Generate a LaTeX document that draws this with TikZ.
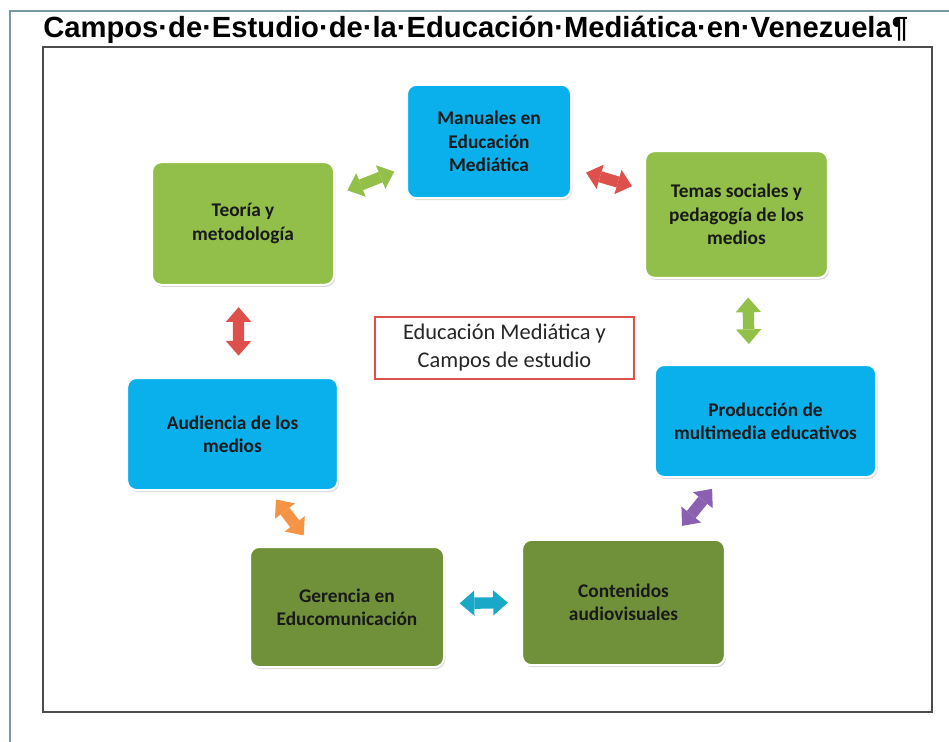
\documentclass[tikz,border=0pt]{standalone}
\usepackage{fontspec}
\setmainfont{Carlito}
\newfontfamily\titelfont{Liberation Sans}
\usetikzlibrary{arrows.meta, shadows}

\definecolor{blau}{RGB}{10,176,235}
\definecolor{hellgruen}{RGB}{146,190,74}
\definecolor{dunkelgruen}{RGB}{112,145,58}
\definecolor{rot}{RGB}{222,80,76}
\definecolor{gruen}{RGB}{146,192,72}
\definecolor{orange}{RGB}{246,148,70}
\definecolor{tuerkis}{RGB}{26,168,200}
\definecolor{lila}{RGB}{138,96,176}
\definecolor{randlinie}{RGB}{122,152,160}

\begin{document}
\begin{tikzpicture}[x=0.75pt, y=-0.75pt,
	kasten/.style={rounded corners=7pt, draw=white, line width=1.5pt, inner sep=0pt, align=center,
		text=black!90, font=\fontsize{14.5}{17.5}\selectfont\bfseries,
		drop shadow={opacity=0.3, shadow xshift=1pt, shadow yshift=-1.5pt}},
	pfeil/.style={line width=8.5pt,
		{Triangle[length=11pt, width=19pt, line width=0pt]}-{Triangle[length=11pt, width=19pt, line width=0pt]}}]
	%\draw[help lines] (0,0) grid (949,742);
	\useasboundingbox (0, 0) rectangle (949, 742);

	\draw [randlinie, line width=0.8pt] (10, 742) -- (10, 11) -- (949, 11);	% Seitenrand
	\node [anchor=base west, inner sep=0pt, font=\titelfont\bfseries\fontsize{21.9}{24}\selectfont] (titel) at (43, 38)
		{Campos·de·Estudio·de·la·Educación·Mediática·en·Venezuela¶};	% Titel
	\draw [black!70, line width=1.5pt] (43, 47) rectangle (932, 712);	% Rahmen

	% Kaesten
	\node [kasten, fill=blau, minimum width=123pt, minimum height=85pt] (manuales) at (489, 141.5) {Manuales en\\Educación\\Mediática};
	\node [kasten, fill=hellgruen, minimum width=137pt, minimum height=95pt] (temas) at (736.5, 214.5) {Temas sociales y\\pedagogía de los\\medios};
	\node [kasten, fill=hellgruen, minimum width=136.5pt, minimum height=92pt] (teoria) at (243, 223.5) {Teoría y\\metodología};
	\node [kasten, fill=blau, minimum width=158pt, minimum height=84pt] (audiencia) at (232.5, 434) {Audiencia de los\\medios};
	\node [kasten, fill=blau, minimum width=166pt, minimum height=84pt] (produccion) at (765.5, 421) {Producción de\\multimedia educativos};
	\node [kasten, fill=dunkelgruen, minimum width=145.5pt, minimum height=90pt] (gerencia) at (347, 607) {Gerencia en\\Educomunicación};
	\node [kasten, fill=dunkelgruen, minimum width=152pt, minimum height=94pt] (contenidos) at (623.5, 602.5) {Contenidos\\audiovisuales};

	\node [draw=rot, line width=1.5pt, fill=white, align=center, inner sep=0pt, minimum width=194pt, minimum height=46.5pt,
		text=black!85, font=\fontsize{16.8}{21}\selectfont] (centro) at (504.5, 348) {Educación Mediática y\\Campos de estudio};	% Mitte

	% Pfeile
	\draw [pfeil, gruen, shorten <=10pt, shorten >=9.5pt] (teoria.17) -- (manuales.197);
	\draw [pfeil, rot, shorten <=11pt, shorten >=9.5pt] (manuales.342) -- (temas.165);
	\draw [pfeil, rot, shorten <=16pt, shorten >=16pt] (teoria.-94) -- (audiencia.84);
	\draw [pfeil, gruen, shorten <=14pt, shorten >=15pt] (temas.-80) -- (produccion.106);
	\draw [pfeil, orange, shorten <=8pt, shorten >=10pt] (audiencia.303) -- (gerencia.120);
	\draw [pfeil, tuerkis, shorten <=11pt, shorten >=10pt] (gerencia.2) -- (contenidos.180);
	\draw [pfeil, lila, shorten <=10.5pt, shorten >=12.5pt] (produccion.232) -- (contenidos.53);

\end{tikzpicture}
\end{document}
